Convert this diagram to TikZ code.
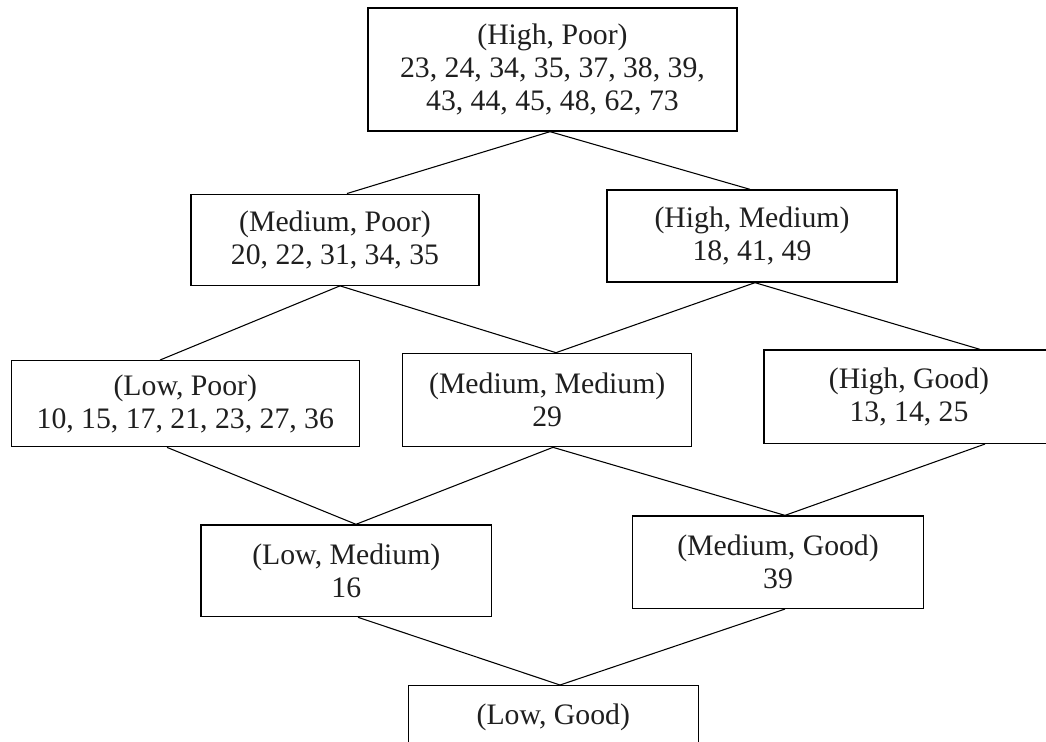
\documentclass[tikz,border=0pt]{standalone}
\usepackage{fontspec}
\setmainfont{Liberation Serif}
\begin{document}
\begin{tikzpicture}[x=0.75pt,y=-0.75pt,
  box/.style={draw=black, line width=1pt, rectangle, align=center, inner sep=0pt,
    text=black!88, font=\fontsize{22.3}{24.8}\selectfont},
  link/.style={draw=black, line width=0.8pt}]
\useasboundingbox (0,0) rectangle (1046,742);
\clip (0,0) rectangle (1046,742);
\node[box, minimum width=276.75pt, minimum height=92.25pt] (hp) at (552.5,69.5)
  {(High, Poor)\\23, 24, 34, 35, 37, 38, 39,\\43, 44, 45, 48, 62, 73};
\node[box, minimum width=216pt, minimum height=68.25pt] (mp) at (335,239.7)
  {(Medium, Poor)\\20, 22, 31, 34, 35};
\node[box, minimum width=217.5pt, minimum height=69pt] (hm) at (752,236)
  {(High, Medium)\\18, 41, 49};
\node[box, minimum width=261pt, minimum height=64.5pt] (lp) at (185.3,403.7)
  {(Low, Poor)\\10, 15, 17, 21, 23, 27, 36};
\node[box, minimum width=216.75pt, minimum height=70pt] (mm) at (547.2,400)
  {(Medium, Medium)\\29};
\node[box, minimum width=217.5pt, minimum height=70pt] (hg) at (909,396.7)
  {(High, Good)\\13, 14, 25};
\node[box, minimum width=218pt, minimum height=68.75pt] (lm) at (346.3,570.8)
  {(Low, Medium)\\16};
\node[box, minimum width=218pt, minimum height=69.25pt] (mg) at (778,562.2)
  {(Medium, Good)\\39};
\node[box, anchor=north, minimum width=217.5pt, text height=15.5pt, text depth=60pt,
  inner ysep=13.5pt] (lg) at (553.3,685) {(Low, Good)};
\draw[link] (hp.south -| 550,0) -- (mp.north -| 347,0);
\draw[link] (hp.south -| 550,0) -- (hm.north -| 750,0);
\draw[link] (mp.south -| 340,0) -- (lp.north -| 160,0);
\draw[link] (mp.south -| 340,0) -- (mm.north -| 556,0);
\draw[link] (hm.south -| 755,0) -- (mm.north -| 556,0);
\draw[link] (hm.south -| 755,0) -- (hg.north -| 980,0);
\draw[link] (lp.south -| 167,0) -- (lm.north -| 356,0);
\draw[link] (mm.south -| 553,0) -- (lm.north -| 356,0);
\draw[link] (mm.south -| 553,0) -- (mg.north -| 785,0);
\draw[link] (hg.south -| 985,0) -- (mg.north -| 785,0);
\draw[link] (lm.south -| 358,0) -- (lg.north -| 560,0);
\draw[link] (mg.south -| 785,0) -- (lg.north -| 560,0);
\end{tikzpicture}
\end{document}
